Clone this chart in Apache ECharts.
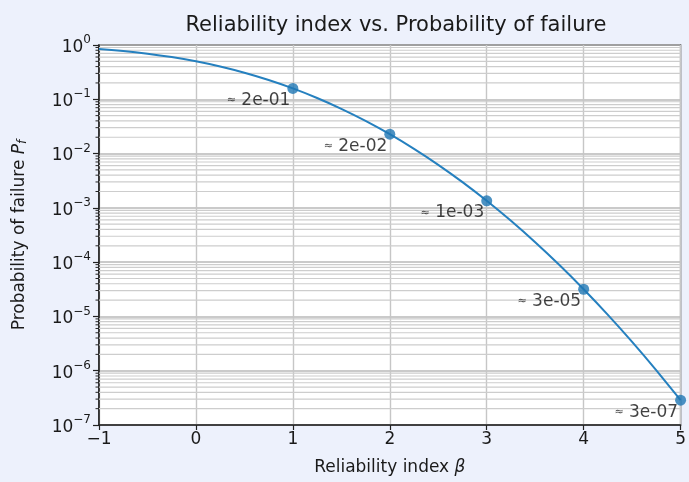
<!DOCTYPE html>
<html>
<head>
<meta charset="utf-8">
<script src="https://cdn.jsdelivr.net/npm/echarts@6/dist/echarts.min.js"></script>
<style>
  html, body { margin: 0; padding: 0; background: #edf1fc; }
  #chart { width: 689px; height: 482px; }
</style>
</head>
<body>
<div id="chart"></div>
<script>
// Reliability index β and the matching failure probability Pf = Φ(−β)
const betaCurve = [-1, -0.75, -0.5, -0.25, 0, 0.25, 0.5, 0.75, 1, 1.25, 1.5, 1.75, 2,
  2.25, 2.5, 2.75, 3, 3.25, 3.5, 3.75, 4, 4.25, 4.5, 4.75, 5];
const pfCurve = [0.8413, 0.7734, 0.6915, 0.5987, 0.5, 0.4013, 0.3085, 0.2266, 0.1587,
  0.1057, 0.06681, 0.04006, 0.02275, 0.01222, 0.006210, 0.002980, 0.001350,
  5.770e-4, 2.326e-4, 8.842e-5, 3.167e-5, 1.069e-5, 3.398e-6, 1.017e-6, 2.867e-7];

// Highlighted integer reliability indices
const betaPoints = [1, 2, 3, 4, 5];
const pfPoints = [0.1587, 0.02275, 0.001350, 3.167e-5, 2.867e-7];

// Axis ticks
const xTicks = [-1, 0, 1, 2, 3, 4, 5];
const yDecades = [-7, -6, -5, -4, -3, -2, -1, 0];
const minorMultipliers = [2, 3, 4, 5, 6, 7, 8, 9];

const FONT = 'DejaVu Sans';
const TEXT = '#1a1a1a';
const BLUE = '#1f77b4';
const FS = 17;

function sci(v) {
  // "2e-01" style
  const parts = v.toExponential(0).split('e');
  const e = parseInt(parts[1], 10);
  const sign = e < 0 ? '-' : '+';
  const mag = String(Math.abs(e)).padStart(2, '0');
  return parts[0] + 'e' + sign + mag;
}

// Minor log gridlines at 2..9 × 10^k
const minorValues = [];
yDecades.slice(0, -1).forEach(k => {
  minorMultipliers.forEach(m => minorValues.push(m * Math.pow(10, k)));
});

const xMin = xTicks[0];
const xMax = xTicks[xTicks.length - 1];

const chart = echarts.init(document.getElementById('chart'));
chart.setOption({
  backgroundColor: '#edf1fc',
  animation: false,
  title: {
    text: 'Reliability index vs. Probability of failure',
    left: 391,
    top: 10,
    textAlign: 'center',
    textStyle: { fontFamily: FONT, fontSize: 21, fontWeight: 'normal', color: TEXT }
  },
  grid: {
    left: 99, right: 3, top: 45, bottom: 57,
    show: true, backgroundColor: '#ffffff', borderColor: '#222222', borderWidth: 1.3
  },
  xAxis: {
    type: 'value',
    min: xMin, max: xMax, interval: 1,
    name: 'Reliability index {i|β}',
    nameLocation: 'middle',
    nameGap: 34,
    nameTextStyle: {
      fontFamily: FONT, fontSize: FS, color: TEXT,
      rich: { i: { fontFamily: FONT, fontStyle: 'italic', fontSize: FS, color: TEXT } }
    },
    axisLine: { show: true, onZero: false, lineStyle: { color: '#222', width: 1.5 } },
    axisTick: { show: true, length: 5, lineStyle: { color: '#222', width: 1.2 } },
    axisLabel: {
      fontFamily: FONT, fontSize: FS, color: TEXT, margin: 6,
      formatter: v => (v < 0 ? '\u2212' + Math.abs(v) : String(v))
    },
    splitLine: { show: true, lineStyle: { color: '#c6c6c6', width: 1.4 } }
  },
  yAxis: {
    type: 'log',
    logBase: 10,
    min: 1e-7, max: 1,
    name: 'Probability of failure {i|P}{sub|f}',
    nameLocation: 'middle',
    nameGap: 70,
    nameTextStyle: {
      fontFamily: FONT, fontSize: FS, color: TEXT,
      rich: {
        i: { fontFamily: FONT, fontStyle: 'italic', fontSize: FS, color: TEXT },
        sub: { fontFamily: FONT, fontStyle: 'italic', fontSize: 12, color: TEXT, padding: [7, 0, 0, 0] }
      }
    },
    axisLine: { show: true, onZero: false, lineStyle: { color: '#222', width: 1.6 } },
    axisTick: { show: true, length: 6, lineStyle: { color: '#222', width: 1.2 } },
    axisLabel: {
      fontFamily: FONT, color: TEXT, margin: 8,
      formatter: v => {
        const e = Math.round(Math.log10(v));
        const s = e < 0 ? '\u2212' + Math.abs(e) : String(e);
        return '{b|10}{s|' + s + '}';
      },
      rich: {
        b: { fontFamily: FONT, fontSize: FS, color: TEXT, lineHeight: 22, verticalAlign: 'bottom' },
        s: { fontFamily: FONT, fontSize: 12, color: TEXT, lineHeight: 12, verticalAlign: 'top' }
      }
    },
    splitLine: { show: true, lineStyle: { color: '#b8b8b8', width: 1.6 } }
  },
  series: [
    {
      // minor gridlines plus their short tick marks on the left spine
      type: 'custom',
      silent: true,
      clip: false,
      z: 1,
      data: minorValues.map(v => [xMin, v]),
      renderItem: (params, api) => {
        const v = api.value(1);
        const a = api.coord([xMin, v]);
        const b = api.coord([xMax, v]);
        return {
          type: 'group',
          children: [
            { type: 'line', shape: { x1: a[0], y1: a[1], x2: b[0], y2: b[1] },
              style: { stroke: '#cdcdcd', lineWidth: 1.2 } },
            { type: 'line', shape: { x1: a[0] - 3.5, y1: a[1], x2: a[0], y2: a[1] },
              style: { stroke: '#222', lineWidth: 1 } }
          ]
        };
      }
    },
    {
      type: 'line',
      data: betaCurve.map((b, i) => [b, pfCurve[i]]),
      showSymbol: false,
      smooth: 0.2,
      lineStyle: { color: '#2580bf', width: 2 },
      z: 3
    },
    {
      type: 'scatter',
      data: betaPoints.map((b, i) => [b, pfPoints[i]]),
      symbolSize: 11,
      itemStyle: { color: BLUE },
      z: 4,
      label: {
        show: true,
        position: 'left',
        distance: 0,
        offset: [3, 12],
        fontFamily: FONT,
        fontSize: FS,
        color: '#111111',
        formatter: p => '{a|\u2248} {t|' + sci(p.value[1]) + '}',
        rich: {
          a: { fontFamily: FONT, fontSize: 11, color: '#111111' },
          t: { fontFamily: FONT, fontSize: FS, color: '#111111' }
        }
      }
    }
  ]
});
</script>
</body>
</html>
